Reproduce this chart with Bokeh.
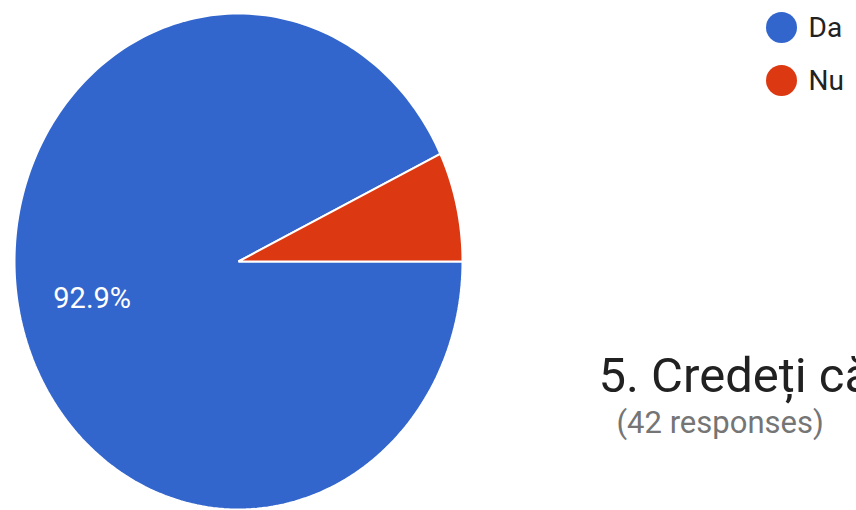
import numpy as np
from bokeh.plotting import figure
from bokeh.models import Range1d
from bokeh.core.properties import value
from bokeh.embed import file_html
from bokeh.resources import INLINE

categories = ["Da", "Nu"]
counts = [39, 3]
colors = ["#3366CC", "#DC3912"]
title_text = "5. Credeți că"
subtitle_text = "(42 responses)"

W, H = 856, 510
cx_px, cy_px = 238, 261      # pie centre in frame pixels (from top-left)
rx_px, ry_px = 224, 248      # pixels per data unit


def dx(px):
    return (px - cx_px) / rx_px


def dy(py):
    return (cy_px - py) / ry_px


p = figure(width=W, height=H, output_backend="svg", toolbar_location=None,
           x_range=Range1d(dx(0), dx(W)), y_range=Range1d(dy(H), dy(0)),
           min_border=0, outline_line_color=None)
p.axis.visible = False
p.grid.visible = False
p.background_fill_color = "white"
p.border_fill_color = "white"

total = sum(counts)
fracs = np.array(counts) / total
ends = -2 * np.pi * np.cumsum(fracs)
starts = np.concatenate([[0.0], ends[:-1]])

xs, ys = [], []
for a0, a1 in zip(starts, ends):
    t = np.linspace(a0, a1, 240)
    xs.append(np.concatenate([[0.0], np.cos(t), [0.0]]))
    ys.append(np.concatenate([[0.0], np.sin(t), [0.0]]))
p.patches(xs=xs, ys=ys, fill_color=colors, line_color="white", line_width=2)

# percentage labels (only large slices)
mids = (starts + ends) / 2
lab_x, lab_y, lab_t = [], [], []
for f, m in zip(fracs, mids):
    if f >= 0.1:
        lab_x.append(0.67 * np.cos(m))
        lab_y.append(0.67 * np.sin(m))
        lab_t.append(f"{f*100:.1f}%")
p.text(x=lab_x, y=lab_y, text=lab_t, text_color="white", text_font=value("Roboto"),
       text_font_size="29px", text_align="center", text_baseline="middle")

# legend
leg_y = [dy(27 + i * 53) for i in range(len(categories))]
p.scatter(x=[dx(781)] * len(categories), y=leg_y, size=31, fill_color=colors, line_color=None)
p.text(x=[dx(808)] * len(categories), y=leg_y, text=categories,
       text_color="#222222", text_font=value("Roboto"), text_font_size="28px",
       text_align="left", text_baseline="middle")

# title and subtitle
p.text(x=[dx(598)], y=[dy(375)], text=[title_text],
       text_color="#212121", text_font=value("Roboto"), text_font_size="49px",
       text_align="left", text_baseline="alphabetic")
p.text(x=[dx(616)], y=[dy(422)], text=[subtitle_text],
       text_color="#757575", text_font=value("Roboto"), text_font_size="31px",
       text_align="left", text_baseline="alphabetic")

open("out.html", "w").write(file_html(p, INLINE))
